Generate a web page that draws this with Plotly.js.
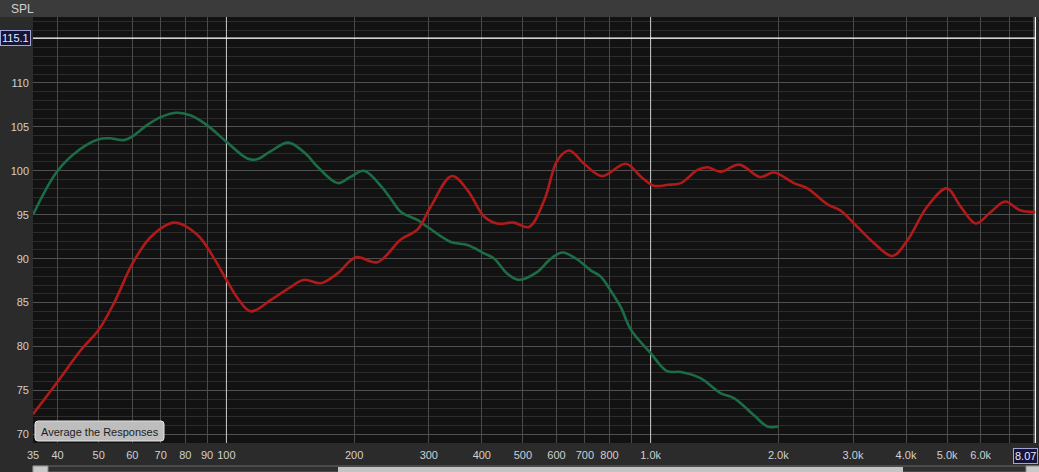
<!DOCTYPE html>
<html>
<head>
<meta charset="utf-8">
<script src="https://cdn.plot.ly/plotly-3.0.1.min.js"></script>
<style>
  html, body { margin: 0; padding: 0; background: #2b2b2b; }
  #chart { width: 1039px; height: 472px; }
</style>
</head>
<body>
<div id="chart"></div>
<script>
// ---- data ----
const greenFreq = [35, 40, 45, 50, 53, 57.5, 60, 65, 70, 76, 82.5, 90, 100, 112, 118, 127, 140, 154, 164, 183, 196, 211, 232, 245, 258, 282, 298, 338, 370, 405, 428, 459, 489, 541, 582, 620, 672, 721, 763, 804, 850, 899, 1000, 1093, 1178, 1311, 1460, 1575, 1750, 1885, 2000];
const greenSPL  = [95.0, 100.0, 102.4, 103.6, 103.7, 103.5, 103.9, 105.2, 106.1, 106.6, 106.3, 105.2, 103.3, 101.4, 101.3, 102.2, 103.2, 101.9, 100.45, 98.6, 99.3, 100.0, 98.2, 96.7, 95.3, 94.4, 93.6, 91.9, 91.55, 90.6, 90.0, 88.3, 87.6, 88.5, 90.0, 90.7, 89.9, 88.7, 87.95, 86.4, 84.5, 81.9, 79.25, 77.2, 77.1, 76.4, 74.7, 74.1, 72.2, 70.9, 70.9];

const redFreq = [35, 40, 45.4, 50, 54.4, 60, 66.4, 75.4, 85.5, 93.6, 100, 106.3, 114.2, 127.3, 141.9, 152.6, 167, 182.6, 202, 227, 258, 282, 303, 340, 370, 405, 435, 476, 517, 562, 603, 643, 697, 768, 874, 950, 1016, 1100, 1178, 1290, 1361, 1461, 1618, 1811, 1955, 2176, 2343, 2607, 2800, 3016, 3364, 3715, 4032, 4485, 4991, 5385, 5843, 6336, 6853, 7427, 8070];
const redSPL  = [72.3, 76.0, 79.6, 81.9, 85.0, 89.4, 92.5, 94.1, 92.7, 90.0, 87.6, 85.5, 84.0, 85.3, 86.8, 87.6, 87.2, 88.3, 90.15, 89.6, 92.2, 93.3, 95.9, 99.4, 97.8, 94.8, 94.0, 94.1, 93.6, 96.7, 101.2, 102.3, 100.8, 99.4, 100.8, 99.3, 98.3, 98.4, 98.6, 100.1, 100.4, 99.9, 100.7, 99.3, 99.8, 98.6, 98.0, 96.2, 95.5, 94.0, 91.75, 90.3, 92.1, 95.9, 98.0, 95.9, 94.0, 95.3, 96.5, 95.5, 95.3];

const xTickVals = [35, 40, 50, 60, 70, 80, 90, 100, 200, 300, 400, 500, 600, 700, 800, 900, 1000, 2000, 3000, 4000, 5000, 6000, 7000, 8000];
const xTickText = ['35', '40', '50', '60', '70', '80', '90', '100', '200', '300', '400', '500', '600', '700', '800', '', '1.0k', '2.0k', '3.0k', '4.0k', '5.0k', '6.0k', '', ''];
const yTickVals = [70, 75, 80, 85, 90, 95, 100, 105, 110, 115];
const yTickText = ['70', '75', '80', '85', '90', '95', '100', '105', '110', ''];
const decadeLines = [100, 1000];
const cursorSPL = 115.1;
const cursorFreq = 8070;
const cursorFreqLabel = '8.07';
const xRange = [35, 8100];
const yRange = [69.02, 117.5];

// ---- geometry helpers (pixel -> paper) ----
const W = 1039, H = 472, mL = 33, mR = 3, mT = 17, mB = 29;
const pw = W - mL - mR, ph = H - mT - mB;
const px = x => (x - mL) / pw;
const py = y => (H - mB - y) / ph;

const FONT = 'Liberation Sans, Arial, sans-serif';

const traces = [];
decadeLines.forEach(f => traces.push({
  x: [f, f], y: yRange, mode: 'lines', type: 'scatter',
  line: { color: '#c8c8c8', width: 1 }, showlegend: false, hoverinfo: 'skip'
}));
traces.push({
  x: xRange, y: [cursorSPL, cursorSPL], mode: 'lines', type: 'scatter',
  line: { color: '#ffffff', width: 1.3 }, showlegend: false, hoverinfo: 'skip'
});
traces.push({
  x: [cursorFreq, cursorFreq], y: yRange, mode: 'lines', type: 'scatter',
  line: { color: '#ffffff', width: 1.3 }, showlegend: false, hoverinfo: 'skip'
});
traces.push({
  x: greenFreq, y: greenSPL, mode: 'lines', type: 'scatter', name: 'Sub',
  line: { color: '#1c6d46', width: 2.6, shape: 'spline', smoothing: 1 }, showlegend: false
});
traces.push({
  x: redFreq, y: redSPL, mode: 'lines', type: 'scatter', name: 'Speaker',
  line: { color: '#b01a1a', width: 2.6, shape: 'spline', smoothing: 1 }, showlegend: false
});

function roundRect(x0, y0, x1, y1, r) {
  const X = v => px(v), Y = v => py(v);
  const rx = r / pw, ry = r / ph;
  return `M ${X(x0) + rx},${Y(y0)} L ${X(x1) - rx},${Y(y0)} Q ${X(x1)},${Y(y0)} ${X(x1)},${Y(y0) - ry} ` +
         `L ${X(x1)},${Y(y1) + ry} Q ${X(x1)},${Y(y1)} ${X(x1) - rx},${Y(y1)} ` +
         `L ${X(x0) + rx},${Y(y1)} Q ${X(x0)},${Y(y1)} ${X(x0)},${Y(y1) + ry} ` +
         `L ${X(x0)},${Y(y0) - ry} Q ${X(x0)},${Y(y0)} ${X(x0) + rx},${Y(y0)} Z`;
}

const shapes = [
  { type: 'rect', xref: 'paper', yref: 'paper', x0: px(0), x1: px(W), y0: py(0), y1: py(mT),
    fillcolor: '#3b3b3b', line: { width: 0 }, layer: 'below' },
  { type: 'rect', xref: 'paper', yref: 'paper', x0: px(33), x1: px(W), y0: py(466), y1: py(472),
    fillcolor: '#2f2f2f', line: { color: '#6a6a6a', width: 1 } },
  { type: 'rect', xref: 'paper', yref: 'paper', x0: px(338), x1: px(903), y0: py(467), y1: py(473),
    fillcolor: '#c4c4c4', line: { width: 0 } },
  { type: 'rect', xref: 'paper', yref: 'paper', x0: px(33), x1: px(48), y0: py(466), y1: py(473),
    fillcolor: '#c8c8c8', line: { color: '#8a8a8a', width: 1 } },
  { type: 'rect', xref: 'paper', yref: 'paper', x0: px(1026), x1: px(1040), y0: py(466), y1: py(473),
    fillcolor: '#c8c8c8', line: { color: '#8a8a8a', width: 1 } },
  { type: 'path', xref: 'paper', yref: 'paper', path: roundRect(35, 421, 164, 441, 3),
    fillcolor: '#bdbdbd', line: { color: '#e6e6e6', width: 1 }, layer: 'above' }
];

const annotations = [
  { text: 'SPL', xref: 'paper', yref: 'paper', x: px(9), y: py(9), xanchor: 'left', yanchor: 'middle',
    showarrow: false, font: { family: FONT, size: 12, color: '#d0d0d0' } },
  { text: String(cursorSPL), xref: 'paper', yref: 'y', x: px(31), y: cursorSPL, xanchor: 'right', yanchor: 'middle',
    showarrow: false, bgcolor: '#15153a', bordercolor: '#a4a4d8', borderwidth: 1, borderpad: 1,
    font: { family: FONT, size: 11, color: '#e8e8ff' } },
  { text: cursorFreqLabel, xref: 'paper', yref: 'paper', x: px(1038), y: py(456), xanchor: 'right', yanchor: 'middle',
    showarrow: false, bgcolor: '#15153a', bordercolor: '#a4a4d8', borderwidth: 1, borderpad: 1,
    font: { family: FONT, size: 11, color: '#e8e8ff' } },
  { text: 'Average the Responses', xref: 'paper', yref: 'paper', x: px(99.5), y: py(431.5),
    xanchor: 'center', yanchor: 'middle', showarrow: false,
    font: { family: FONT, size: 11, color: '#1c1c1c' } }
];

const layout = {
  width: W, height: H,
  margin: { l: mL, r: mR, t: mT, b: mB, pad: 0 },
  paper_bgcolor: '#2b2b2b',
  plot_bgcolor: '#121212',
  showlegend: false,
  hovermode: false,
  font: { family: FONT, size: 11, color: '#d0d0d0' },
  xaxis: {
    type: 'log',
    range: [Math.log10(xRange[0]), Math.log10(xRange[1])],
    tickmode: 'array', tickvals: xTickVals, ticktext: xTickText,
    showgrid: true, gridcolor: '#4a4a4a', gridwidth: 1,
    zeroline: false, showline: false, ticks: '',
    tickfont: { family: FONT, size: 11, color: '#d0d0d0' },
    ticklabelstandoff: 4,
    fixedrange: true
  },
  yaxis: {
    range: yRange,
    tickmode: 'array', tickvals: yTickVals, ticktext: yTickText,
    showgrid: true, gridcolor: '#505050', gridwidth: 1,
    minor: { tickmode: 'linear', tick0: 0, dtick: 1, showgrid: true, gridcolor: '#2c2c2c', gridwidth: 1, ticks: '' },
    zeroline: false, showline: false, ticks: '',
    tickfont: { family: FONT, size: 11, color: '#d0d0d0' },
    ticklabelstandoff: 3,
    fixedrange: true
  },
  shapes: shapes,
  annotations: annotations
};

Plotly.newPlot('chart', traces, layout, { displayModeBar: false, staticPlot: true });
</script>
</body>
</html>
